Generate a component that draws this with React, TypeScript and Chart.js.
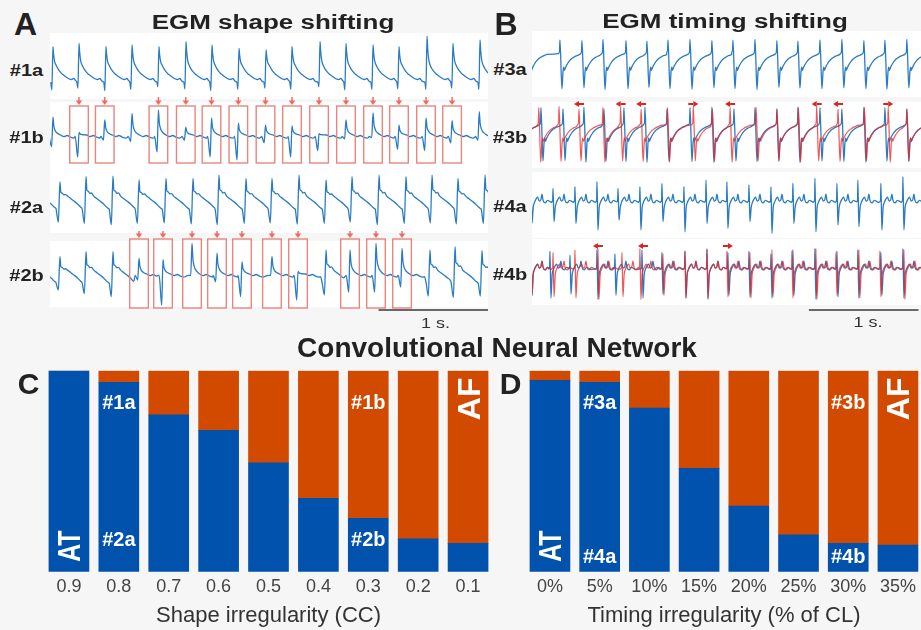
import React, { useEffect, useRef } from "react";
import { Chart, registerables } from "chart.js";

Chart.register(...registerables);

const FONT = '"Liberation Sans", Arial, Helvetica, sans-serif';
const BG = "#f6f6f6";
const BLUE_BAR = "#0152ad";
const ORANGE_BAR = "#d24a00";
const TRACE_BLUE = "#2a7bc4";
const TRACE_RED = "rgba(240, 36, 36, 0.78)";
const BOX_RED = "#e8867e";
const ARROW_RED = "#ee6a5c";
const SHIFT_RED = "#e0221e";

// ---------------- Panel C : shape irregularity ----------------
const shapeCategories = ["0.9", "0.8", "0.7", "0.6", "0.5", "0.4", "0.3", "0.2", "0.1"];
const shapeAT = [1.0, 0.942, 0.78, 0.703, 0.542, 0.365, 0.266, 0.163, 0.141];
const shapeAF = [0.0, 0.058, 0.22, 0.297, 0.458, 0.635, 0.734, 0.837, 0.859];

// ---------------- Panel D : timing irregularity ----------------
const timingCategories = ["0%", "5%", "10%", "15%", "20%", "25%", "30%", "35%"];
const timingAT = [0.952, 0.942, 0.814, 0.514, 0.327, 0.183, 0.141, 0.133];
const timingAF = [0.048, 0.058, 0.186, 0.486, 0.673, 0.817, 0.859, 0.867];

// ---------------- EGM beat templates: [dt (s), value, role] ----------------
// role 0: fixed value, role 1: value x beat peak, role 2: value x beat dip
const tplDecay = [
  [-0.02, -0.62, 0], [-0.01, 1, 2], [0, 1, 1], [0.006, 0.6, 1], [0.015, 0.24, 1], [0.03, 0.02, 0],
  [0.06, -0.2, 0], [0.09, -0.33, 0], [0.12, -0.42, 0], [0.15, -0.5, 0], [0.17, -0.52, 0],
  [0.19, -0.48, 0], [0.205, -0.55, 0], [0.215, -0.6, 0],
];
const tplSlope = [
  [-0.035, -0.35, 0], [-0.015, 1, 2], [0, 1, 1], [0.008, 0.42, 1], [0.02, 0.38, 1], [0.035, 0.28, 1],
  [0.05, 0.3, 1], [0.07, 0.15, 0], [0.1, 0.05, 0], [0.13, -0.05, 0], [0.16, -0.15, 0],
  [0.19, -0.28, 0], [0.205, -0.33, 0],
];
const tplShifted = [
  [-0.035, -0.05, 0], [-0.012, 1, 2], [0, 1, 1], [0.008, 0.5, 1], [0.02, 0.25, 1], [0.04, 0.1, 1],
  [0.07, 0.0, 0], [0.1, -0.06, 0], [0.13, -0.02, 0], [0.16, -0.08, 0], [0.19, -0.12, 0], [0.205, -0.1, 0],
];
const tplFlutter = [
  [-0.012, 0.4, 0], [-0.004, 0.5, 0], [0, 1, 1], [0.018, 1, 2], [0.028, -0.3, 0], [0.034, -0.12, 0],
  [0.04, -0.24, 0], [0.05, -0.14, 0], [0.07, 0.02, 0], [0.1, 0.18, 0], [0.13, 0.27, 0],
  [0.16, 0.33, 0], [0.18, 0.37, 0],
];
const tplBiphasic = [
  [-0.012, 0.12, 0], [-0.003, 0.2, 0], [0, 1, 1], [0.009, 1, 2], [0.02, -0.1, 0], [0.03, 0.08, 0],
  [0.045, 0.22, 0], [0.06, 0.3, 0], [0.075, 0.15, 0], [0.09, 0.2, 0], [0.1, 0.42, 0], [0.11, 0.18, 0],
  [0.13, 0.08, 0], [0.15, 0.18, 0], [0.17, 0.14, 0], [0.185, 0.1, 0],
];

// ---------------- Panel A rows (time in s) ----------------
const times1a = [0.027, 0.265, 0.511, 0.749, 0.995, 1.242, 1.479, 1.726, 1.973, 2.21, 2.466, 2.703, 2.95, 3.187, 3.443, 3.68, 3.927];
const peaks1a = [0.74, 0.87, 0.74, 0.81, 0.74, 0.94, 0.81, 0.68, 0.62, 0.74, 0.94, 0.87, 0.81, 0.74, 1.15, 0.87, 1.0];
const dips1a = [-0.92, -0.85, -0.95, -0.9, -0.8, -0.88, -0.95, -0.9, -0.85, -0.9, -0.8, -0.92, -0.9, -0.88, -0.9, -0.85, -0.9];

const times1b = [0.027, 0.265, 0.5, 0.749, 0.99, 1.24, 1.475, 1.72, 1.968, 2.21, 2.457, 2.703, 2.95, 3.187, 3.434, 3.672, 3.92];
const peaks1b = [0.69, 0.1, 0.58, 0.83, 0.96, 0.3, 0.65, 0.46, 0.38, 0.35, 0.05, 0.58, 0.85, 0.38, 0.65, 0.55, 0.9];
const dips1b = [-0.45, -0.85, -0.2, -0.25, -0.65, -0.2, -0.85, -0.96, -0.3, -0.85, -0.6, -0.15, -0.1, -0.55, -0.6, -0.3, -0.2];
const boxedBeats1b = [1, 2, 4, 5, 6, 7, 8, 9, 10, 11, 12, 13, 14, 15];

const times2a = [-0.15, 0.091, 0.329, 0.575, 0.813, 1.059, 1.306, 1.543, 1.79, 2.027, 2.274, 2.521, 2.758, 3.005, 3.251, 3.489, 3.726, 3.973];
const peaks2a = [0.8, 0.7, 0.9, 0.92, 0.77, 0.83, 0.83, 0.96, 0.83, 0.83, 0.96, 0.77, 0.9, 0.96, 0.9, 0.96, 0.83, 0.96];
const dips2a = [-0.9, -0.85, -0.9, -0.95, -0.9, -0.88, -0.92, -0.95, -0.9, -0.88, -0.93, -0.9, -0.85, -0.95, -0.9, -0.88, -0.92, -0.9];

const times2b = [-0.15, 0.091, 0.329, 0.575, 0.813, 1.032, 1.297, 1.525, 1.753, 2.027, 2.265, 2.521, 2.74, 2.977, 3.215, 3.47, 3.699, 3.945];
const kind2b = [0, 0, 0, 0, 1, 1, 1, 1, 1, 1, 1, 0, 1, 1, 1, 0, 0, 0];
const peaks2b = [0.7, 0.67, 0.86, 0.86, 0.6, 0.55, 1.18, 0.8, 0.47, 0.67, 0.1, 0.92, 0.92, 1.18, 0.98, 0.92, 1.05, 0.9];
const dips2b = [-0.6, -0.62, -0.75, -0.87, -0.23, -1.2, -0.05, -0.3, -0.87, -0.05, -1.0, -0.8, -0.7, -0.7, -0.5, -0.85, -0.9, -0.85];
const boxedBeats2b = [4, 5, 6, 7, 8, 9, 10, 12, 13, 14];

// ---------------- Panel B rows (time in s) ----------------
const times3a = [-0.045, 0.255, 0.456, 0.648, 0.858, 1.049, 1.241, 1.442, 1.642, 1.834, 2.035, 2.235, 2.427, 2.628, 2.828, 3.029, 3.221, 3.421, 3.62];
const peaks3a = [0.9, 0.93, 0.9, 0.95, 0.9, 0.88, 0.93, 0.95, 0.9, 0.92, 0.95, 0.9, 0.88, 0.93, 0.95, 0.9, 0.92, 0.95, 0.9];
const dips3a = [-0.9, -0.95, -0.92, -0.98, -0.95, -0.9, -0.95, -0.97, -0.92, -0.95, -0.98, -0.9, -0.93, -0.95, -0.92, -0.95, -0.97, -0.92, -0.9];

const times3b = [-0.12, 0.082, 0.283, 0.474, 0.657, 0.839, 1.031, 1.232, 1.442, 1.642, 1.843, 2.035, 2.235, 2.427, 2.628, 2.828, 3.029, 3.221, 3.421, 3.62];
const peaks3b = [0.95, 1.05, 1.0, 1.07, 1.0, 1.05, 1.07, 1.0, 1.05, 1.07, 1.0, 1.05, 1.0, 1.07, 1.05, 1.0, 1.07, 1.05, 1.0, 1.0];
const dips3b = [-1.0, -1.0, -0.98, -1.05, -1.0, -1.02, -1.05, -1.0, -1.02, -1.05, -1.0, -1.02, -0.98, -1.05, -1.0, -1.02, -1.05, -1.0, -1.02, -1.0];
const timesRed3b = [-0.12, 0.062, 0.247, 0.429, 0.647, 0.809, 0.996, 1.237, 1.472, 1.647, 1.808, 2.045, 2.235, 2.432, 2.598, 2.793, 3.034, 3.251, 3.421, 3.62];
const peaksRed3b = [1.0, 1.05, 1.1, 1.0, 1.05, 1.07, 1.0, 1.05, 1.1, 1.0, 1.05, 1.07, 1.0, 1.05, 1.1, 1.0, 1.05, 1.07, 1.0, 1.0];
const dipsRed3b = [-1.0, -1.05, -1.02, -1.0, -1.05, -1.0, -1.02, -1.05, -1.0, -1.02, -1.05, -1.0, -1.02, -1.05, -1.0, -1.02, -1.0, -1.05, -1.0, -1.0];
const arrowTimes3b = [0.429, 0.809, 0.996, 1.472, 1.808, 2.598, 2.793, 3.251];
const arrowDirs3b = [-1, -1, -1, 1, -1, -1, -1, 1];

const times4a = [-0.009, 0.192, 0.392, 0.593, 0.785, 0.985, 1.186, 1.387, 1.588, 1.779, 1.98, 2.181, 2.381, 2.582, 2.783, 2.974, 3.184, 3.385, 3.586];
const peaks4a = [0.6, 0.64, 0.71, 0.9, 0.64, 0.71, 0.83, 0.71, 0.96, 0.9, 0.77, 0.71, 0.83, 1.03, 0.83, 0.96, 0.83, 1.09, 0.8];
const dips4a = [-0.7, -0.64, -0.71, -0.96, -0.58, -0.96, -0.64, -1.03, -0.71, -0.9, -0.64, -1.09, -0.71, -1.03, -0.77, -0.83, -0.96, -0.96, -0.8];

const times4b = [-0.009, 0.164, 0.347, 0.593, 0.757, 1.004, 1.186, 1.396, 1.597, 1.788, 1.98, 2.181, 2.381, 2.582, 2.783, 2.974, 3.184, 3.385, 3.586];
const peaks4b = [0.7, 0.8, 0.65, 0.85, 0.7, 0.85, 0.75, 0.8, 0.9, 0.75, 0.8, 0.7, 0.85, 0.9, 0.8, 0.85, 0.75, 0.9, 0.8];
const dips4b = [-0.9, -1.0, -0.85, -1.05, -0.9, -1.0, -0.85, -1.0, -1.05, -0.9, -0.95, -1.0, -0.9, -1.05, -0.95, -1.0, -0.9, -1.0, -0.9];
const timesRed4b = [-0.009, 0.192, 0.392, 0.602, 0.821, 0.985, 1.195, 1.396, 1.597, 1.779, 1.989, 2.19, 2.372, 2.591, 2.774, 2.983, 3.175, 3.394, 3.586];
const peaksRed4b = [0.7, 0.75, 0.85, 0.9, 0.75, 0.9, 0.7, 0.8, 0.85, 0.8, 0.75, 0.85, 0.8, 0.9, 0.75, 0.85, 0.8, 0.85, 0.8];
const dipsRed4b = [-0.9, -0.95, -1.0, -1.05, -0.95, -1.05, -0.9, -1.0, -1.0, -0.95, -1.0, -0.95, -1.0, -1.05, -0.9, -1.0, -0.95, -1.05, -0.9];
const arrowTimes4b = [0.602, 1.013, 1.788];
const arrowDirs4b = [-1, -1, 1];

// ---------------- helpers ----------------
type Pt = { x: number; y: number };

function buildTrace(times: number[], peaks: number[], dips: number[], tpls: number[][][], kinds?: number[]): Pt[] {
  const pts: Pt[] = [];
  let lastX = -Infinity;
  const tplOf = (i: number) => tpls[kinds ? kinds[i] : 0];
  times.forEach((t, i) => {
    const tpl = tplOf(i);
    const nextStart = i + 1 < times.length ? times[i + 1] + tplOf(i + 1)[0][0] : Infinity;
    for (const [dt, v, role] of tpl) {
      const x = t + dt;
      if (x <= lastX || x >= nextStart) continue;
      const y = role === 1 ? v * peaks[i] : role === 2 ? v * dips[i] : v;
      pts.push({ x, y });
      lastX = x;
    }
  });
  return pts;
}

type Marks = {
  boxes?: { times: number[]; half: number; top: number; bottom: number };
  down?: { times: number[]; y0: number; y1: number };
  side?: { times: number[]; dirs: number[]; y: number };
  bar?: { t0: number; t1: number; y: number };
};

function marksPlugin(m: Marks) {
  return {
    id: "egmMarks",
    beforeDatasetsDraw(chart: any) {
      const { ctx, chartArea: a } = chart;
      ctx.save();
      ctx.fillStyle = "#ffffff";
      ctx.fillRect(a.left, a.top - 3, a.right - a.left, a.bottom - a.top + 6);
      ctx.restore();
    },
    afterDatasetsDraw(chart: any) {
      const { ctx, chartArea: a } = chart;
      const xs = chart.scales.x;
      ctx.save();
      if (m.boxes) {
        ctx.strokeStyle = BOX_RED;
        ctx.lineWidth = 1.4;
        for (const t of m.boxes.times) {
          const x0 = xs.getPixelForValue(t - m.boxes.half);
          const x1 = xs.getPixelForValue(t + m.boxes.half);
          const y0 = a.top + m.boxes.top;
          const y1 = a.bottom + m.boxes.bottom;
          ctx.strokeRect(x0, y0, x1 - x0, y1 - y0);
        }
      }
      if (m.down) {
        ctx.strokeStyle = ARROW_RED;
        ctx.fillStyle = ARROW_RED;
        ctx.lineWidth = 1.4;
        for (const t of m.down.times) {
          const px = xs.getPixelForValue(t);
          const y0 = a.top + m.down.y0;
          const y1 = a.top + m.down.y1;
          ctx.beginPath();
          ctx.moveTo(px, y0);
          ctx.lineTo(px, y1 - 4);
          ctx.stroke();
          ctx.beginPath();
          ctx.moveTo(px - 3.2, y1 - 4.5);
          ctx.lineTo(px + 3.2, y1 - 4.5);
          ctx.lineTo(px, y1);
          ctx.closePath();
          ctx.fill();
        }
      }
      if (m.side) {
        ctx.strokeStyle = SHIFT_RED;
        ctx.fillStyle = SHIFT_RED;
        ctx.lineWidth = 2;
        m.side.times.forEach((t, i) => {
          const d = m.side!.dirs[i];
          const px = xs.getPixelForValue(t);
          const y = a.top + m.side!.y;
          ctx.beginPath();
          ctx.moveTo(px - d * 5, y);
          ctx.lineTo(px, y);
          ctx.stroke();
          ctx.beginPath();
          ctx.moveTo(px + d * 5, y);
          ctx.lineTo(px, y - 3);
          ctx.lineTo(px, y + 3);
          ctx.closePath();
          ctx.fill();
        });
      }
      if (m.bar) {
        ctx.strokeStyle = "#3a3a3a";
        ctx.lineWidth = 1.5;
        const y = a.bottom + m.bar.y;
        ctx.beginPath();
        ctx.moveTo(xs.getPixelForValue(m.bar.t0), y);
        ctx.lineTo(xs.getPixelForValue(m.bar.t1), y);
        ctx.stroke();
      }
      ctx.restore();
    },
  };
}

type Series = { points: Pt[]; color: string; width: number };

function traceConfig(series: Series[], xmax: number, padTop: number, padBottom: number, marks: Marks) {
  return {
    type: "line",
    data: {
      datasets: series.map((s) => ({
        data: s.points,
        borderColor: s.color,
        borderWidth: s.width,
        pointRadius: 0,
        fill: false,
        cubicInterpolationMode: "monotone",
        clip: { left: 0, right: 0, top: 10, bottom: 10 },
      })),
    },
    options: {
      animation: false,
      responsive: false,
      events: [],
      layout: { padding: { top: padTop, bottom: padBottom, left: 0, right: 0 } },
      scales: {
        x: { type: "linear", min: 0, max: xmax, display: false },
        y: { type: "linear", min: -1.154, max: 1.154, display: false },
      },
      plugins: { legend: { display: false }, tooltip: { enabled: false } },
    },
    plugins: [marksPlugin(marks)],
  };
}

type BarLabel = { i: number; text: string; v: number; size: number; rot?: boolean; sx?: number };

function barLabelPlugin(labels: BarLabel[]) {
  return {
    id: "barLabels",
    afterDatasetsDraw(chart: any) {
      const { ctx } = chart;
      const xs = chart.scales.x;
      const ys = chart.scales.y;
      ctx.save();
      ctx.fillStyle = "#ffffff";
      ctx.textAlign = "center";
      ctx.textBaseline = "alphabetic";
      for (const l of labels) {
        const px = xs.getPixelForValue(l.i);
        const py = ys.getPixelForValue(l.v);
        ctx.font = `bold ${l.size}px ${FONT}`;
        ctx.save();
        ctx.translate(px, py);
        if (l.rot) ctx.rotate(-Math.PI / 2);
        ctx.scale(l.sx ?? 1, 1);
        ctx.fillText(l.text, 0, 0.358 * l.size);
        ctx.restore();
      }
      ctx.restore();
    },
  };
}

function barConfig(cats: string[], at: number[], af: number[], title: string, padding: any, labels: BarLabel[]) {
  return {
    type: "bar",
    data: {
      labels: cats,
      datasets: [
        { label: "AT", data: at, backgroundColor: BLUE_BAR, borderWidth: 0, barThickness: 40, stack: "s" },
        { label: "AF", data: af, backgroundColor: ORANGE_BAR, borderWidth: 0, barThickness: 40, stack: "s" },
      ],
    },
    options: {
      animation: false,
      responsive: false,
      events: [],
      layout: { padding },
      scales: {
        x: {
          stacked: true,
          grid: { display: false, drawTicks: false },
          border: { display: false },
          ticks: { color: "#444", font: { family: FONT, size: 18 }, padding: 4.5 },
          title: { display: true, text: title, color: "#333", font: { family: FONT, size: 22 }, padding: { top: 0, bottom: 0 } },
        },
        y: { stacked: true, min: 0, max: 1, display: false },
      },
      plugins: { legend: { display: false }, tooltip: { enabled: false } },
    },
    plugins: [barLabelPlugin(labels)],
  };
}

function ChartBox({ left, top, width, height, make }: { left: number; top: number; width: number; height: number; make: () => any }) {
  const ref = useRef<HTMLCanvasElement | null>(null);
  useEffect(() => {
    if (!ref.current) return;
    const chart = new Chart(ref.current, make());
    return () => chart.destroy();
  }, []);
  return <canvas ref={ref} width={width} height={height} style={{ position: "absolute", left, top, width, height }} />;
}

function Txt({ x, y, size, bold, sy = 1, color = "#222", children }: { x: number; y: number; size: number; bold?: boolean; sy?: number; color?: string; children: React.ReactNode }) {
  return (
    <div
      style={{
        position: "absolute",
        left: x,
        top: y,
        transform: `translate(-50%, -50%) scale(1, ${sy})`,
        fontSize: size,
        fontWeight: bold ? 700 : 400,
        lineHeight: 1,
        whiteSpace: "nowrap",
        color,
        fontFamily: FONT,
      }}
    >
      {children}
    </div>
  );
}

const A_LEFT = 50, A_WIDTH = 438, A_XMAX = 4.0;
const B_LEFT = 532, B_WIDTH = 389, B_XMAX = 3.55;
const BOX_HALF = 0.085;

export default function App() {
  useEffect(() => {
    document.body.style.margin = "0";
    document.body.style.background = BG;
  }, []);

  const tr1a = buildTrace(times1a, peaks1a, dips1a, [tplDecay]);
  const tr1b = buildTrace(times1b, peaks1b, dips1b, [tplShifted]);
  const tr2a = buildTrace(times2a, peaks2a, dips2a, [tplSlope]);
  const tr2b = buildTrace(times2b, peaks2b, dips2b, [tplSlope, tplShifted], kind2b);
  const tr3a = buildTrace(times3a, peaks3a, dips3a, [tplFlutter]);
  const tr3b = buildTrace(times3b, peaks3b, dips3b, [tplFlutter]);
  const tr3bRed = buildTrace(timesRed3b, peaksRed3b, dipsRed3b, [tplFlutter]);
  const tr4a = buildTrace(times4a, peaks4a, dips4a, [tplBiphasic]);
  const tr4b = buildTrace(times4b, peaks4b, dips4b, [tplBiphasic]);
  const tr4bRed = buildTrace(timesRed4b, peaksRed4b, dipsRed4b, [tplBiphasic]);

  const box1b = boxedBeats1b.map((i) => times1b[i]);
  const box2b = boxedBeats2b.map((i) => times2b[i]);
  const blue = (p: Pt[]): Series => ({ points: p, color: TRACE_BLUE, width: 1.3 });
  const red = (p: Pt[]): Series => ({ points: p, color: TRACE_RED, width: 1.2 });

  const cLabels: BarLabel[] = [
    { i: 1, text: "#1a", v: 0.845, size: 20 },
    { i: 1, text: "#2a", v: 0.163, size: 20 },
    { i: 6, text: "#1b", v: 0.845, size: 20 },
    { i: 6, text: "#2b", v: 0.163, size: 20 },
    { i: 0, text: "AT", v: 0.127, size: 31, rot: true, sx: 0.8 },
    { i: 8, text: "AF", v: 0.86, size: 32, rot: true },
  ];
  const dLabels: BarLabel[] = [
    { i: 1, text: "#3a", v: 0.845, size: 20 },
    { i: 1, text: "#4a", v: 0.078, size: 20 },
    { i: 6, text: "#3b", v: 0.845, size: 20 },
    { i: 6, text: "#4b", v: 0.078, size: 20 },
    { i: 0, text: "AT", v: 0.127, size: 31, rot: true, sx: 0.8 },
    { i: 7, text: "AF", v: 0.86, size: 32, rot: true },
  ];

  return (
    <div style={{ position: "relative", width: 921, height: 630, overflow: "hidden", background: BG, fontFamily: FONT }}>
      <style>{"body{margin:0}"}</style>
      {/* Panel A traces */}
      <ChartBox left={A_LEFT} top={32} width={A_WIDTH} height={68} make={() => traceConfig([blue(tr1a)], A_XMAX, 4, 4, {})} />
      <ChartBox
        left={A_LEFT}
        top={93}
        width={A_WIDTH}
        height={76}
        make={() =>
          traceConfig([blue(tr1b)], A_XMAX, 12, 4, {
            boxes: { times: box1b, half: BOX_HALF, top: 1, bottom: -2 },
            down: { times: box1b, y0: -8, y1: 0 },
          })
        }
      />
      <ChartBox left={A_LEFT} top={166} width={A_WIDTH} height={68} make={() => traceConfig([blue(tr2a)], A_XMAX, 4, 4, {})} />
      <ChartBox
        left={A_LEFT}
        top={230}
        width={A_WIDTH}
        height={84}
        make={() =>
          traceConfig([blue(tr2b)], A_XMAX, 14, 10, {
            boxes: { times: box2b, half: BOX_HALF, top: -5, bottom: 4 },
            down: { times: box2b, y0: -13, y1: -6 },
            bar: { t0: 3.0, t1: 4.0, y: 6 },
          })
        }
      />
      {/* Panel B traces */}
      <ChartBox left={B_LEFT} top={30} width={B_WIDTH} height={68} make={() => traceConfig([blue(tr3a)], B_XMAX, 4, 4, {})} />
      <ChartBox
        left={B_LEFT}
        top={97}
        width={B_WIDTH}
        height={72}
        make={() =>
          traceConfig([red(tr3bRed), blue(tr3b)], B_XMAX, 8, 4, {
            side: { times: arrowTimes3b, dirs: arrowDirs3b, y: -1 },
          })
        }
      />
      <ChartBox left={B_LEFT} top={171} width={B_WIDTH} height={68} make={() => traceConfig([blue(tr4a)], B_XMAX, 4, 4, {})} />
      <ChartBox
        left={B_LEFT}
        top={238}
        width={B_WIDTH}
        height={74}
        make={() =>
          traceConfig([red(tr4bRed), blue(tr4b)], B_XMAX, 4, 10, {
            side: { times: arrowTimes4b, dirs: arrowDirs4b, y: 4 },
            bar: { t0: 2.527, t1: 3.527, y: 8 },
          })
        }
      />
      {/* Panels C and D */}
      <ChartBox
        left={0}
        top={360}
        width={500}
        height={270}
        make={() =>
          barConfig(shapeCategories, shapeAT, shapeAF, "Shape irregularity (CC)", { left: 44, right: 7, top: 10.7, bottom: 1.3 }, cLabels)
        }
      />
      <ChartBox
        left={500}
        top={360}
        width={423}
        height={270}
        make={() =>
          barConfig(timingCategories, timingAT, timingAF, "Timing irregularity (% of CL)", { left: 25.1, right: 0.2, top: 10.7, bottom: 1.3 }, dLabels)
        }
      />
      {/* Text */}
      <Txt x={25.5} y={23.5} size={32} bold>A</Txt>
      <Txt x={273} y={22} size={26} bold sy={0.78}>EGM shape shifting</Txt>
      <Txt x={506} y={24} size={32} bold>B</Txt>
      <Txt x={725} y={21} size={26} bold sy={0.78}>EGM timing shifting</Txt>
      <Txt x={26.5} y={71} size={20} bold sy={0.78}>#1a</Txt>
      <Txt x={26.5} y={138} size={20} bold sy={0.78}>#1b</Txt>
      <Txt x={26.5} y={208} size={20} bold sy={0.78}>#2a</Txt>
      <Txt x={26.5} y={276} size={20} bold sy={0.78}>#2b</Txt>
      <Txt x={510} y={70} size={20} bold sy={0.78}>#3a</Txt>
      <Txt x={510} y={138} size={20} bold sy={0.78}>#3b</Txt>
      <Txt x={510} y={207} size={20} bold sy={0.78}>#4a</Txt>
      <Txt x={510} y={275} size={20} bold sy={0.78}>#4b</Txt>
      <Txt x={435.5} y={322.5} size={18} sy={0.78} color="#333">1 s.</Txt>
      <Txt x={868} y={322} size={18} sy={0.78} color="#333">1 s.</Txt>
      <Txt x={497} y={348} size={28} bold>Convolutional Neural Network</Txt>
      <Txt x={28.5} y={384} size={30} bold>C</Txt>
      <Txt x={510.5} y={384} size={30} bold>D</Txt>
    </div>
  );
}
